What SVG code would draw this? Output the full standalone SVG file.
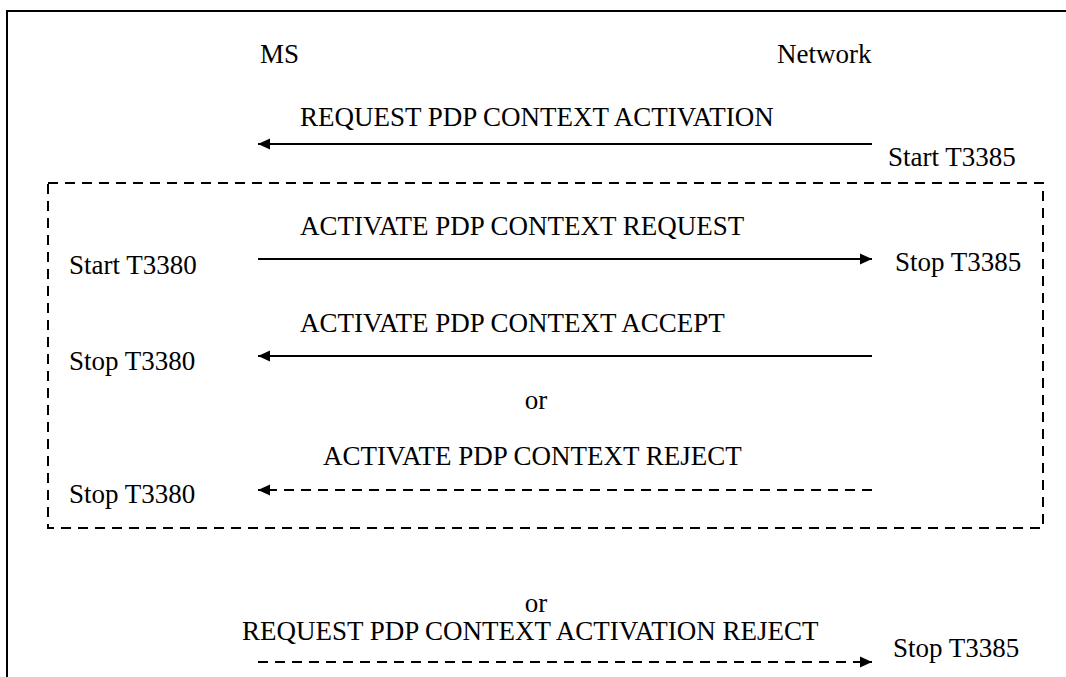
<svg xmlns="http://www.w3.org/2000/svg" width="1066" height="677" viewBox="0 0 1066 677">
<style>
.msg { stroke: #000; stroke-width: 2; fill: none; }
.dash { stroke-dasharray: 10 7; }
.frame { stroke: #000; stroke-width: 2; fill: none; }
</style>
<defs>
<marker id="ah" markerUnits="userSpaceOnUse" markerWidth="14" markerHeight="12" refX="12" refY="6" orient="auto">
<path d="M0,0.5 L12,6 L0,11.5 Z" fill="#000"/>
</marker>
</defs>
<rect width="1066" height="677" fill="#fff"/>
<g id="frame">
<path class="frame" d="M7,677 L7,11 L1066,11"/>
</g>
<g id="group-box">
<rect class="frame dash" x="48" y="183" width="995" height="345"/>
</g>
<g id="ms"><text x="260" y="63" font-family="Liberation Serif" font-size="27">MS</text></g>
<g id="network"><text x="777" y="63" font-family="Liberation Serif" font-size="27">Network</text></g>
<g id="labels">
<text x="888" y="166" font-family="Liberation Serif" font-size="27">Start T3385</text>
<text x="69" y="274" font-family="Liberation Serif" font-size="27">Start T3380</text>
<text x="895" y="271" font-family="Liberation Serif" font-size="27">Stop T3385</text>
<text x="69" y="370" font-family="Liberation Serif" font-size="27">Stop T3380</text>
<text x="536" y="409" text-anchor="middle" font-family="Liberation Serif" font-size="27">or</text>
<text x="69" y="503" font-family="Liberation Serif" font-size="27">Stop T3380</text>
<text x="536" y="612" text-anchor="middle" font-family="Liberation Serif" font-size="27">or</text>
<text x="893" y="657" font-family="Liberation Serif" font-size="27">Stop T3385</text>
</g>
<g id="connectors">
<line class="msg" x1="872" y1="144" x2="258" y2="144" marker-end="url(#ah)"/>
<text x="300" y="126" font-family="Liberation Serif" font-size="27">REQUEST PDP CONTEXT ACTIVATION</text>
<line class="msg" x1="258" y1="259" x2="872" y2="259" marker-end="url(#ah)"/>
<text x="300" y="235" font-family="Liberation Serif" font-size="27">ACTIVATE PDP CONTEXT REQUEST</text>
<line class="msg" x1="872" y1="356" x2="258" y2="356" marker-end="url(#ah)"/>
<text x="300" y="332" font-family="Liberation Serif" font-size="27">ACTIVATE PDP CONTEXT ACCEPT</text>
<line class="msg dash" x1="872" y1="490" x2="258" y2="490" marker-end="url(#ah)"/>
<text x="323" y="465" font-family="Liberation Serif" font-size="27">ACTIVATE PDP CONTEXT REJECT</text>
<line class="msg dash" x1="258" y1="662" x2="872" y2="662" marker-end="url(#ah)"/>
<text x="242" y="640" font-family="Liberation Serif" font-size="27">REQUEST PDP CONTEXT ACTIVATION REJECT</text>
</g>
</svg>
